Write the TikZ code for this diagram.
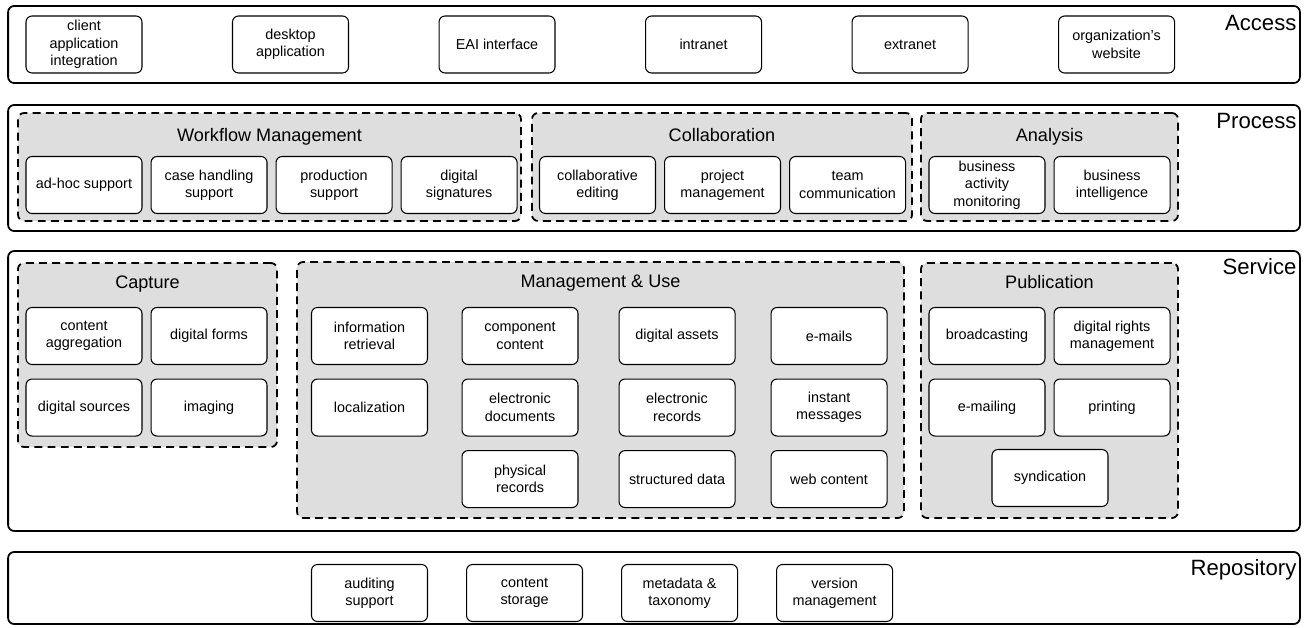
\documentclass[tikz,border=0pt]{standalone}
\usepackage{fontspec}
\setmainfont{Liberation Sans}
\usetikzlibrary{positioning}

\begin{document}
\begin{tikzpicture}[
  x=0.02cm, y=-0.02cm,
  node distance=0.16cm,
  layer/.style={rectangle, draw, line width=1pt, rounded corners=0.12cm, minimum width=25.84cm},
  layerlabel/.style={font=\fontsize{12.6}{14}\selectfont, inner sep=0pt, anchor=base east},
  group/.style={rectangle, draw, dashed, dash pattern=on 4.5pt off 3pt, line width=1pt, rounded corners=0.12cm, fill=black!13},
  grouptitle/.style={font=\fontsize{10.3}{12}\selectfont, inner sep=0pt, anchor=base},
  item/.style={rectangle, draw, line width=0.6pt, rounded corners=0.12cm, fill=white, align=center, font=\fontsize{8.2}{9.9}\selectfont, minimum width=2.32cm, minimum height=1.14cm, inner sep=1pt}
]
  \useasboundingbox (0,0) rectangle (1306,628);

  % Access layer
  \node[layer, minimum height=1.54cm] (access) at (654,44.5) {};
  \node[layerlabel] (accesslabel) at ([shift={(-4,25)}]access.north east) {Access};
  \node[item] (cai) at (84,44.5) {client\\application\\integration};
  \node[item, right=1.79cm of cai] (desktop) {desktop\\application};
  \node[item, right=1.79cm of desktop] (eai) {EAI interface};
  \node[item, right=1.79cm of eai] (intranet) {intranet};
  \node[item, right=1.79cm of intranet] (extranet) {extranet};
  \node[item, right=1.79cm of extranet] (website) {organization's\\website};

  % Process layer
  \node[layer, minimum height=2.52cm] (process) at (654,168) {};
  \node[layerlabel] (processlabel) at ([shift={(-4,24)}]process.north east) {Process};

  \node[group, minimum width=10.06cm, minimum height=2.16cm] (workflow) at (269.5,167) {};
  \node[grouptitle] (workflowtitle) at ([shift={(0,29)}]workflow.north) {Workflow Management};
  \node[item] (adhoc) at (84,185) {ad-hoc support};
  \node[item, right=of adhoc] (casehandling) {case handling\\support};
  \node[item, right=of casehandling] (production) {production\\support};
  \node[item, right=of production] (signatures) {digital\\signatures};

  \node[group, minimum width=7.6cm, minimum height=2.16cm] (collab) at (722,167) {};
  \node[grouptitle] (collabtitle) at ([shift={(0,29)}]collab.north) {Collaboration};
  \node[item] (coediting) at (597.5,185) {collaborative\\editing};
  \node[item, right=of coediting] (projectmgmt) {project\\management};
  \node[item, right=of projectmgmt] (teamcomm) {team\\communication};

  \node[group, minimum width=5.14cm, minimum height=2.16cm] (analysis) at (1049.5,167) {};
  \node[grouptitle] (analysistitle) at ([shift={(0,29)}]analysis.north) {Analysis};
  \node[item] (bam) at (987,185) {business\\activity\\monitoring};
  \node[item, right=of bam] (bi) {business\\intelligence};

  % Service layer
  \node[layer, minimum height=5.6cm] (service) at (654,391) {};
  \node[layerlabel] (servicelabel) at ([shift={(-4,24)}]service.north east) {Service};

  \node[group, minimum width=5.18cm, minimum height=3.68cm] (capture) at (147.5,355) {};
  \node[grouptitle] (capturetitle) at ([shift={(0,26)}]capture.north) {Capture};
  \node[item] (aggregation) at (84,336) {content\\aggregation};
  \node[item, right=of aggregation] (forms) {digital forms};
  \node[item, below=0.27cm of aggregation] (sources) {digital sources};
  \node[item, right=of sources] (imaging) {imaging};

  \node[group, minimum width=12.14cm, minimum height=5.12cm] (mgmtuse) at (600.5,390) {};
  \node[grouptitle] (mgmtusetitle) at ([shift={(0,26)}]mgmtuse.north) {Management \& Use};
  \node[item] (retrieval) at (369.5,336) {information\\retrieval};
  \node[item, below=0.27cm of retrieval] (localization) {localization};
  \node[item, right=0.67cm of retrieval] (component) {component\\content};
  \node[item, below=0.27cm of component] (edocuments) {electronic\\documents};
  \node[item, below=0.27cm of edocuments] (physical) {physical\\records};
  \node[item, right=0.8cm of component] (assets) {digital assets};
  \node[item, below=0.27cm of assets] (erecords) {electronic\\records};
  \node[item, below=0.27cm of erecords] (structured) {structured data};
  \node[item, right=0.7cm of assets] (emails) {e-mails};
  \node[item, below=0.27cm of emails] (instant) {instant\\messages};
  \node[item, below=0.27cm of instant] (webcontent) {web content};

  \node[group, minimum width=5.14cm, minimum height=5.1cm] (publication) at (1049.5,390.5) {};
  \node[grouptitle] (publicationtitle) at ([shift={(0,26)}]publication.north) {Publication};
  \node[item] (broadcasting) at (987,336) {broadcasting};
  \node[item, right=of broadcasting] (drm) {digital rights\\management};
  \node[item, below=0.27cm of broadcasting] (emailing) {e-mailing};
  \node[item, right=of emailing] (printing) {printing};
  \node[item] (syndication) at (1050,478) {syndication};

  % Repository layer
  \node[layer, minimum height=1.44cm] (repository) at (654,588) {};
  \node[layerlabel] (repositorylabel) at ([shift={(-4,24)}]repository.north east) {Repository};
  \node[item] (auditing) at (369.5,593) {auditing\\support};
  \node[item, right=0.76cm of auditing] (storage) {content\\storage};
  \node[item, right=0.76cm of storage] (metadata) {metadata \&\\taxonomy};
  \node[item, right=0.76cm of metadata] (versioning) {version\\management};
\end{tikzpicture}
\end{document}
